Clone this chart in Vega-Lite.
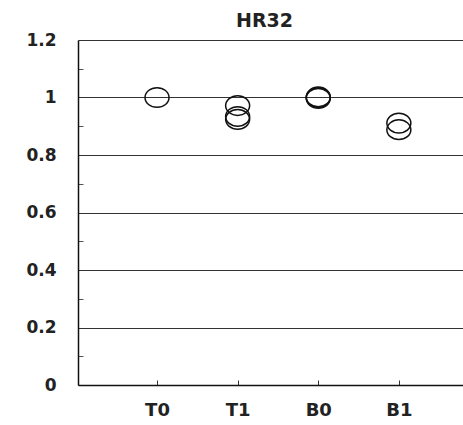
{
  "$schema": "https://vega.github.io/schema/vega-lite/v6.json",
  "width": 385,
  "height": 345,
  "autosize": {"type": "none"},
  "padding": {"left": 78, "top": 40, "right": 0, "bottom": 40},
  "background": "white",
  "title": {
    "text": "HR32",
    "font": "DejaVu Sans",
    "fontSize": 19,
    "fontWeight": "bold",
    "color": "#222222",
    "offset": 0,
    "dx": -6
  },
  "config": {"view": {"stroke": null}},
  "data": {
    "values": [
      {"group": "T0", "value": 1.0},
      {"group": "T1", "value": 0.972},
      {"group": "T1", "value": 0.934},
      {"group": "T1", "value": 0.924},
      {"group": "B0", "value": 1.0},
      {"group": "B0", "value": 0.997},
      {"group": "B0", "value": 1.002},
      {"group": "B1", "value": 0.911},
      {"group": "B1", "value": 0.888}
    ]
  },
  "mark": {
    "type": "point",
    "shape": "M-1,0A1,0.82,0,1,0,1,0A1,0.82,0,1,0,-1,0Z",
    "size": 576,
    "filled": false,
    "stroke": "#111111",
    "strokeWidth": 1.5,
    "opacity": 1
  },
  "encoding": {
    "x": {
      "field": "group",
      "type": "nominal",
      "sort": ["T0", "T1", "B0", "B1"],
      "scale": {"type": "point", "padding": 0.888, "align": 0.552},
      "axis": {
        "title": null,
        "labelAngle": 0,
        "labelFont": "DejaVu Sans",
        "labelFontSize": 18,
        "labelFontWeight": "bold",
        "labelColor": "#222222",
        "labelPadding": 21,
        "tickSize": -5,
        "tickColor": "#333333",
        "tickWidth": 1,
        "domainColor": "#111111",
        "domainWidth": 1.5,
        "grid": false
      }
    },
    "y": {
      "field": "value",
      "type": "quantitative",
      "scale": {"domain": [0, 1.2], "nice": false, "zero": true},
      "axis": {
        "title": null,
        "values": [0, 0.1, 0.2, 0.3, 0.4, 0.5, 0.6, 0.7, 0.8, 0.9, 1.0, 1.1, 1.2],
        "labelExpr": "round(datum.value * 10) % 2 == 0 ? format(datum.value, '.1~f') : ''",
        "labelFont": "DejaVu Sans",
        "labelFontSize": 17,
        "labelFontWeight": "bold",
        "labelColor": "#222222",
        "labelPadding": 27,
        "labelBaseline": "middle",
        "tickSize": -5,
        "tickColor": "#555555",
        "tickWidth": 1,
        "tickOpacity": {"condition": {"test": "round(datum.value * 10) % 2 == 0", "value": 0}, "value": 1},
        "grid": true,
        "gridColor": "#333333",
        "gridWidth": 1,
        "gridOpacity": {"condition": {"test": "round(datum.value * 10) % 2 == 0", "value": 1}, "value": 0},
        "domainColor": "#111111",
        "domainWidth": 1.5
      }
    }
  }
}
